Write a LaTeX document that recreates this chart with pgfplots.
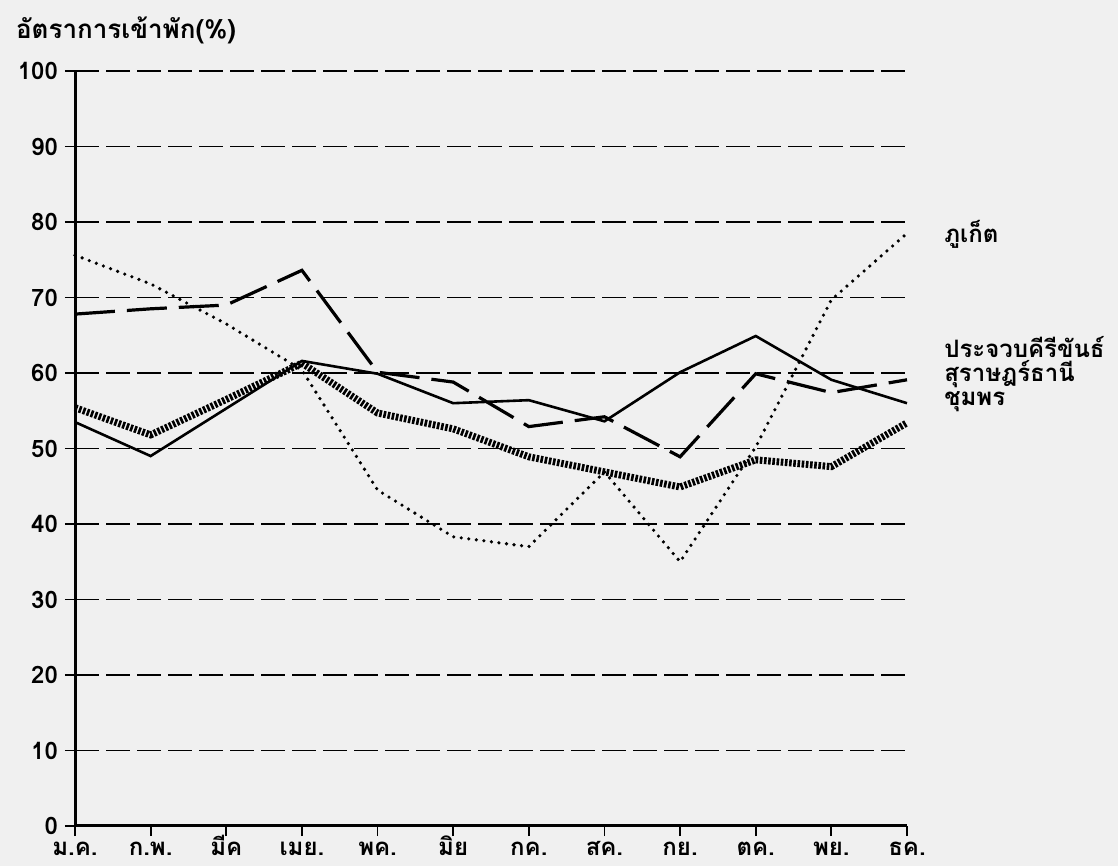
\documentclass[border=0pt]{standalone}
\usepackage{pgfplots}
\pgfplotsset{compat=1.18}
\usepackage{fontspec}
\setmainfont[Script=Thai]{Loma}
\begin{document}
\begin{tikzpicture}[x=1pt,y=1pt]
\fill[black!6] (-37.5,-20) rectangle (521.5,413);
\useasboundingbox (-37.5,-20) rectangle (521.5,413);
\begin{axis}[
  at={(0,0)}, anchor=south west,
  scale only axis, width=416pt, height=377.5pt,
  xmin=0, xmax=11, ymin=0, ymax=100,
  axis x line=bottom, axis y line=left,
  axis line style={line width=1.5pt,-},
  xtick={0,...,11},
  xticklabels={ม.ค., ก.พ., มีค, เมย., พค., มิย, กค., สค., กย., ตค., พย., ธค.},
  ytick={0,10,...,100},
  tick align=outside, major tick length=5pt,
  tick style={black, line width=0.9pt},
  ymajorgrids,
  grid style={black, line width=0.7pt, dash pattern=on 12pt off 3.5pt},
  ticklabel style={font=\bfseries\fontsize{12}{14}\selectfont},
  xticklabel style={text height=1.5ex, text depth=0.3ex, inner sep=2pt},
  /pgf/number format/assume math mode=true,
  clip=false,
]
% Phuket (dotted)
\addplot[black, line width=1.8pt, line cap=round, dash pattern=on 0pt off 3.8pt] coordinates {
(0,75.6) (1,71.8) (2,66.5) (3,60.4) (4,44.5) (5,38.3) (6,37.0) (7,46.9) (8,35.0) (9,50.2) (10,69.7) (11,78.5)};
% Prachuap (long dash)
\addplot[black, line width=1.6pt, dash pattern=on 20pt off 6pt] coordinates {
(0,67.8) (1,68.5) (2,69.0) (3,73.6) (4,60.1) (5,58.8) (6,52.9) (7,54.2) (8,48.9) (9,59.9) (10,57.4) (11,59.1)};
% Surat Thani (solid)
\addplot[black, line width=1.3pt] coordinates {
(0,53.5) (1,49.0) (2,55.3) (3,61.6) (4,59.9) (5,56.0) (6,56.4) (7,53.6) (8,60.1) (9,64.9) (10,59.1) (11,56.0)};
% Chumphon (thick dotted)
\addplot[black, line width=3.5pt, dash pattern=on 1.3pt off 0.8pt] coordinates {
(0,55.4) (1,51.8) (2,56.5) (3,61.3) (4,54.7) (5,52.6) (6,48.9) (7,46.9) (8,44.9) (9,48.5) (10,47.6) (11,53.4)};
\node[anchor=west, font=\bfseries\fontsize{12}{13}\selectfont] at (axis cs:11.4,78.3) {ภูเก็ต};
\node[anchor=west, font=\bfseries\fontsize{12}{13}\selectfont] at (axis cs:11.4,63.4) {ประจวบคีรีขันธ์};
\node[anchor=west, font=\bfseries\fontsize{12}{13}\selectfont] at (axis cs:11.4,59.8) {สุราษฎร์ธานี};
\node[anchor=west, font=\bfseries\fontsize{12}{13}\selectfont] at (axis cs:11.4,56.2) {ชุมพร};
\end{axis}
\node[anchor=west, font=\bfseries\fontsize{13}{15}\selectfont] at (-33,398) {อัตราการเข้าพัก(\%)};
\end{tikzpicture}
\end{document}
